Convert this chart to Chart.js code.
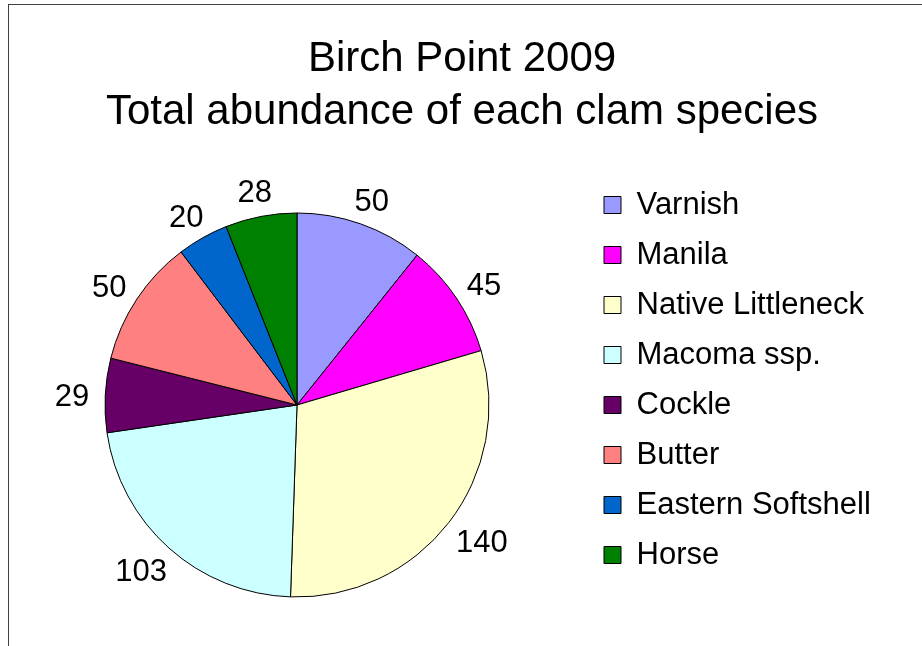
<!DOCTYPE html>
<html>
<head>
<meta charset="utf-8">
<script src="https://cdn.jsdelivr.net/npm/chart.js@4/dist/chart.umd.min.js"></script>
<style>
    html, body { margin: 0; padding: 0; background: #fff; overflow: hidden; }
    #frame { position: absolute; left: 8px; top: 4px; width: 2000px; height: 2000px;
             border-left: 1px solid #404040; border-top: 1px solid #404040; }
    #pie { position: absolute; left: 0; top: 0; }
</style>
</head>
<body>
<div id="frame"></div>
<canvas id="pie" width="922" height="646"></canvas>
<script>
const species = ['Varnish', 'Manila', 'Native Littleneck', 'Macoma ssp.', 'Cockle', 'Butter', 'Eastern Softshell', 'Horse'];
const abundance = [50, 45, 140, 103, 29, 50, 20, 28];
const sliceColors = ['#9999FF', '#FF00FF', '#FFFFCC', '#CCFFFF', '#660066', '#FF8080', '#0066CC', '#008000'];
const titleLines = ['Birch Point 2009', 'Total abundance of each clam species'];

const fontFamily = '"Liberation Sans", Arial, sans-serif';
const legendWidth = 330;

// value labels just outside each slice
const valueLabels = {
    id: 'valueLabels',
    afterDatasetsDraw(chart) {
        const ctx = chart.ctx;
        const meta = chart.getDatasetMeta(0);
        ctx.save();
        ctx.font = '31px ' + fontFamily;
        ctx.fillStyle = '#000';
        ctx.textAlign = 'center';
        ctx.textBaseline = 'middle';
        meta.data.forEach((arc, i) => {
            const p = arc.getProps(['x', 'y', 'startAngle', 'endAngle', 'outerRadius'], true);
            const mid = (p.startAngle + p.endAngle) / 2;
            const ux = Math.cos(mid), uy = Math.sin(mid);
            const text = String(abundance[i]);
            const w = ctx.measureText(text).width;
            const d = p.outerRadius + 16;
            ctx.fillText(text, p.x + ux * (d + w / 2), p.y + uy * (d + 11) + 4);
        });
        ctx.restore();
    }
};

// give the legend a fixed width so the title stays centred on the page
const legendSize = {
    id: 'legendSize',
    beforeLayout(chart) {
        const lg = chart.legend;
        if (lg && !lg._fixedFit) {
            const fit = lg.fit.bind(lg);
            lg.fit = function () {
                fit();
                this.width = legendWidth;
            };
            lg._fixedFit = true;
        }
    }
};

new Chart(document.getElementById('pie').getContext('2d'), {
    type: 'pie',
    data: {
        labels: species,
        datasets: [{
            data: abundance,
            backgroundColor: sliceColors,
            borderColor: '#000',
            borderWidth: 1,
            radius: 192
        }]
    },
    options: {
        responsive: false,
        animation: false,
        layout: {
            padding: { top: 4, left: 9, right: 7, bottom: 6.5 }
        },
        plugins: {
            tooltip: { enabled: false },
            title: {
                display: true,
                text: titleLines,
                color: '#000',
                font: { family: fontFamily, size: 42, weight: 'normal', lineHeight: 53 / 42 },
                padding: { top: 28.5, bottom: 32 }
            },
            legend: {
                position: 'right',
                align: 'start',
                fullSize: false,
                labels: {
                    color: '#000',
                    font: { family: fontFamily, size: 31 },
                    boxWidth: 17,
                    boxHeight: 17,
                    padding: 19
                }
            }
        }
    },
    plugins: [legendSize, valueLabels]
});
</script>
</body>
</html>
